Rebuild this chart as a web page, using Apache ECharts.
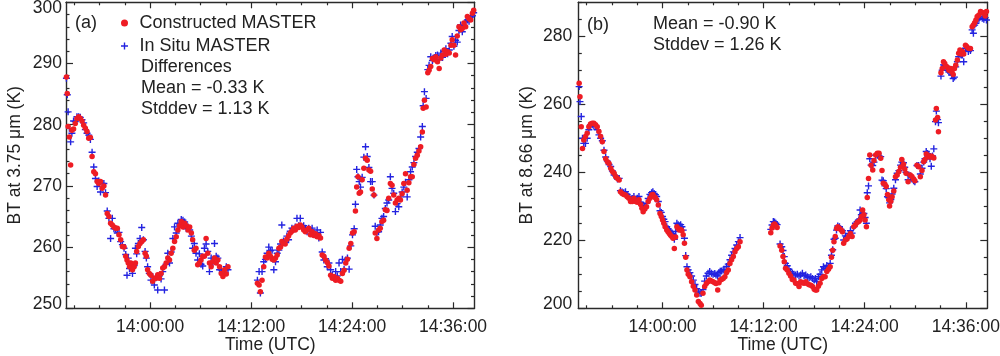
<!DOCTYPE html>
<html><head><meta charset="utf-8">
<script src="https://cdn.jsdelivr.net/npm/echarts@6/dist/echarts.min.js"></script>
<style>html,body{margin:0;padding:0;background:#fff}#c{width:1000px;height:356px}</style>
</head><body><div id="c"></div>
<script>
// ---- Panel (a): BT at 3.75 um, time in minutes after 14:00:00 UTC ----
const timesA = [
-9.95,-9.85,-9.75,-9.6,-9.45,-9.3,-9.1,-8.9,-8.7,-8.5,
-8.3,-8.1,-7.9,-7.7,-7.5,-7.3,-7.1,-6.9,-6.7,-6.5,
-6.3,-6.1,-5.9,-5.7,-5.5,-5.3,-5.1,-4.9,-4.7,-4.5,
-4.3,-4.1,-3.9,-3.7,-3.5,-3.3,-3.1,-2.9,-2.75,-2.6,
-2.45,-2.3,-2.1,-1.9,-1.75,-1.6,-1.4,-1.2,-1.0,-0.8,
-0.6,-0.45,-0.3,-0.1,0.1,0.3,0.5,0.7,0.9,1.1,
1.3,1.5,1.7,1.9,2.1,2.3,2.5,2.7,2.9,3.1,
3.3,3.5,3.7,3.9,4.1,4.3,4.5,4.7,4.9,5.05,
5.25,5.45,5.65,5.85,6.05,6.25,6.45,6.65,6.85,7.05,
7.25,7.45,7.65,7.85,8.05,8.25,8.45,8.65,8.85,9.05,
9.25,
12.75,12.95,13.1,13.3,13.5,13.7,13.9,14.1,14.3,14.5,
14.7,14.9,15.1,15.3,15.5,15.65,15.85,16.05,16.25,16.45,
16.65,16.85,17.05,17.25,17.45,17.65,17.85,18.05,18.25,18.45,
18.65,18.85,19.05,19.25,19.45,19.65,19.85,20.05,20.25,20.45,
20.65,20.85,21.05,21.25,21.45,21.65,21.85,22.05,22.25,22.45,
22.65,22.85,23.05,23.25,23.45,23.65,23.85,24.05,24.25,24.4,
24.55,24.7,24.85,25.0,25.2,25.4,25.6,25.8,26.0,26.2,
26.4,26.6,26.75,26.95,27.15,27.35,27.55,27.75,27.95,28.15,
28.35,28.55,28.75,28.95,29.15,29.35,29.55,29.75,29.95,30.15,
30.35,30.55,30.75,30.95,31.15,31.35,31.55,31.75,31.95,32.15,
32.35,32.45,32.6,32.8,33.0,33.15,33.35,33.55,33.75,33.95,
34.15,34.35,34.55,34.75,34.95,35.15,35.35,35.55,35.75,35.9,
36.1,36.3,36.5,36.7,36.9,37.1,37.3,37.5,37.7,37.9,
38.1,38.3,38.45];
const constructedA = [
287.8,285.1,279.7,278.0,273.4,279.1,279.3,280.2,281.0,281.3,
281.0,280.6,279.9,279.4,278.9,277.8,277.9,274.8,272.3,272.0,
270.7,270.4,270.7,269.6,270.0,268.5,265.5,265.0,263.9,263.6,
263.3,263.1,263.1,262.0,261.2,260.1,260.0,258.5,257.9,257.4,
256.8,257.4,256.3,256.8,257.4,259.3,260.1,260.6,260.9,261.2,
259.0,258.5,256.3,255.7,255.4,254.4,254.9,254.9,255.5,254.9,
255.7,256.6,256.8,257.4,258.2,257.9,259.0,259.8,260.9,261.7,
262.8,263.5,264.2,263.3,263.9,263.5,262.8,263.3,262.3,261.2,
259.5,259.8,257.1,257.4,257.9,258.5,258.5,261.4,259.0,257.4,
256.8,257.6,258.2,257.4,257.9,256.8,255.7,255.2,256.3,255.6,
256.8,
254.1,253.8,252.7,254.6,256.8,258.4,258.2,259.0,258.5,258.0,
257.9,258.2,258.7,259.8,260.0,260.9,260.6,260.5,261.3,261.8,
262.3,262.6,263.1,262.8,263.4,263.2,263.6,263.3,262.8,262.5,
262.8,263.1,262.0,262.5,261.9,262.2,261.7,261.9,261.5,258.7,
258.5,257.9,257.5,256.9,255.4,254.9,255.2,254.6,254.9,254.6,
254.4,255.7,256.2,257.4,258.0,259.8,260.6,262.3,262.5,265.9,
269.8,271.5,268.8,269.0,271.0,272.9,274.5,274.2,272.6,272.4,
269.5,268.5,262.3,261.4,262.8,263.1,264.2,264.4,266.1,266.0,
268.0,270.4,270.1,268.5,267.2,267.7,268.0,267.7,268.7,270.4,
272.0,269.3,270.5,271.5,271.5,273.5,274.5,275.0,275.7,276.4,
278.8,282.7,284.0,282.9,288.5,288.9,289.5,290.8,290.6,291.1,
290.3,289.2,290.9,291.4,292.2,291.5,291.9,291.7,293.0,293.9,
293.0,291.4,294.5,296.0,295.5,295.7,296.6,296.0,297.7,297.3,
297.1,298.2,298.7];
const inSituA = [
287.6,284.9,282.1,279.4,277.2,278.6,280.6,280.5,281.3,281.3,
281.2,280.8,280.3,279.2,278.6,278.3,277.6,275.5,273.1,271.2,
269.9,270.8,269.0,270.4,270.4,268.9,265.9,264.7,261.4,264.7,
263.0,263.0,262.3,262.4,260.9,260.4,259.8,258.8,255.4,258.2,
256.5,257.2,255.7,257.0,259.8,258.9,260.6,261.4,263.2,261.2,
259.3,258.2,256.8,255.7,254.6,255.2,253.8,255.0,253.0,255.3,
254.8,256.0,253.0,257.2,259.0,257.4,259.2,261.4,263.3,262.3,
263.9,263.6,264.5,264.4,264.1,263.0,263.3,262.8,261.8,259.8,
260.6,259.0,257.9,258.9,257.2,256.9,259.8,260.5,259.3,256.0,
258.2,257.4,260.6,258.5,258.2,256.3,256.3,255.7,256.3,256.8,
256.3,
254.6,256.0,252.5,256.0,257.6,258.0,259.0,260.0,259.4,259.5,
256.3,257.6,259.0,259.5,260.5,263.6,261.0,260.8,261.8,261.2,
262.6,263.1,262.9,263.3,264.7,263.5,264.7,263.2,263.5,263.1,
262.5,263.1,262.8,263.1,262.3,262.0,262.8,261.5,262.4,259.2,
257.9,258.1,256.8,257.4,256.3,255.4,255.0,256.0,255.3,257.4,
256.0,258.0,256.4,257.9,258.2,256.4,260.2,262.0,263.0,267.0,
272.7,271.5,270.7,269.8,271.4,274.7,276.4,274.8,273.0,270.7,
270.7,268.5,263.4,262.4,262.5,263.6,264.7,265.0,266.3,267.2,
267.7,271.5,269.6,268.8,265.8,267.1,266.6,268.2,269.0,269.8,
270.6,268.2,271.0,272.3,273.1,273.8,274.8,275.5,276.1,278.0,
279.7,283.1,285.4,284.3,289.0,289.7,291.1,290.5,290.9,291.3,
291.4,290.6,291.7,291.0,292.0,292.4,291.6,292.2,293.3,294.4,
292.8,293.8,293.5,295.4,296.3,295.2,296.2,296.8,297.1,296.9,
297.6,297.8,298.3];

// ---- Panel (b): BT at 8.66 um ----
const timesB = [
-9.9,-9.8,-9.65,-9.5,-9.35,-9.15,-8.95,-8.75,-8.55,-8.35,
-8.15,-7.95,-7.75,-7.55,-7.35,-7.15,-6.95,-6.75,-6.55,-6.35,
-6.15,-5.95,-5.75,-5.55,-5.35,-5.15,-5.0,-4.8,-4.6,-4.4,
-4.2,-4.0,-3.8,-3.6,-3.4,-3.2,-3.0,-2.8,-2.6,-2.45,
-2.3,-2.1,-1.9,-1.7,-1.5,-1.3,-1.15,-1.0,-0.85,-0.7,
-0.5,-0.3,-0.15,0.0,0.15,0.3,0.5,0.65,0.8,0.95,
1.1,1.25,1.4,1.55,1.7,1.85,2.0,2.15,2.3,2.45,
2.6,2.75,2.9,3.05,3.25,3.45,3.65,3.85,4.05,4.25,
4.45,4.6,4.8,5.0,5.2,5.4,5.6,5.8,6.0,6.2,
6.35,6.55,6.7,6.85,7.0,7.2,7.4,7.6,7.8,8.0,
8.2,8.4,8.6,8.8,9.0,9.2,
12.85,13.0,13.15,13.3,13.45,13.6,13.95,14.15,14.3,14.45,
14.6,14.8,15.0,15.2,15.4,15.6,15.8,16.0,16.2,16.4,
16.6,16.8,17.0,17.2,17.4,17.6,17.8,18.0,18.15,18.3,
18.5,18.7,18.9,19.1,19.3,19.5,19.7,19.9,20.05,20.2,
20.35,20.5,20.65,20.8,21.0,21.2,21.35,21.5,21.7,21.9,
22.1,22.3,22.5,22.7,22.9,23.1,23.3,23.45,23.6,23.75,
23.9,24.05,24.2,24.3,24.45,24.6,24.75,24.95,25.1,25.3,
25.5,25.7,25.9,26.05,26.2,26.4,26.55,26.7,26.85,26.95,
27.1,27.25,27.45,27.65,27.85,28.05,28.25,28.4,28.6,28.75,
28.9,29.15,29.4,29.6,29.8,29.95,30.2,30.4,30.6,30.8,
31.0,31.15,31.3,31.45,31.6,31.75,31.9,32.05,32.2,32.4,
32.5,32.65,32.75,33.05,33.2,33.35,33.5,33.7,33.85,34.0,
34.2,34.35,34.5,34.65,34.8,35.0,35.15,35.3,35.45,35.6,
35.75,35.96,36.1,36.3,36.55,36.75,36.9,37.05,37.2,37.35,
37.55,37.75,37.95,38.14,38.3,38.45];
const constructedB = [
266.2,262.2,253.4,247.0,249.5,250.5,251.5,253.4,254.2,254.4,
254.4,254.0,253.4,252.0,250.5,249.0,246.1,244.0,243.1,242.6,
241.2,240.2,239.7,238.7,238.2,237.7,234.3,233.8,233.5,233.3,
232.8,232.4,231.4,231.4,232.4,231.4,231.2,231.9,230.5,229.4,
228.4,229.2,229.9,231.4,232.4,233.3,233.5,232.8,232.5,231.9,
230.4,227.9,227.0,226.0,225.0,224.0,223.0,222.5,222.0,221.5,
221.1,220.6,217.6,221.0,224.0,223.5,223.0,223.2,222.8,221.6,
219.1,215.0,211.3,210.0,209.3,207.8,206.5,205.4,203.9,202.0,
201.4,200.9,204.4,206.4,207.3,207.8,208.3,208.0,207.8,207.5,
207.3,205.4,207.5,208.3,208.5,208.8,209.3,210.5,211.3,213.2,
214.3,215.2,216.6,217.6,218.1,219.6,
222.2,223.6,224.5,224.8,224.3,223.8,218.3,217.1,215.2,213.7,
211.8,211.3,210.3,209.5,208.5,208.3,207.4,207.2,206.4,207.8,
207.5,207.4,207.8,207.2,206.9,206.8,206.4,205.6,205.4,205.4,
206.5,207.4,208.8,209.3,209.3,210.8,211.5,212.2,215.0,217.1,
219.6,221.1,223.5,224.0,223.5,223.0,222.5,219.1,220.1,220.4,
221.1,222.0,221.1,224.0,224.5,225.2,225.5,226.0,227.0,228.9,
227.5,226.0,224.0,232.6,238.2,245.1,242.1,240.7,243.5,245.1,
245.6,245.6,244.1,240.5,236.8,236.5,235.8,233.5,231.9,230.1,
231.5,232.8,234.5,238.7,239.2,240.2,241.5,243.8,242.4,241.0,
239.7,237.2,239.2,238.8,238.0,237.5,242.1,241.6,238.7,240.5,
243.1,243.8,245.4,245.0,244.6,244.5,244.8,244.5,244.2,255.4,
258.8,256.1,251.9,269.3,270.5,272.5,272.0,271.1,270.8,270.0,
270.5,269.5,268.8,270.5,271.5,273.0,275.0,276.0,274.8,275.5,
274.8,277.4,277.0,276.5,276.4,282.8,283.3,284.0,284.8,285.8,
286.3,287.3,287.0,286.8,286.0,287.3];
const inSituB = [
265.2,260.8,256.4,250.0,248.5,248.5,250.0,252.5,253.9,254.0,
253.6,253.5,252.5,251.0,250.0,249.3,246.5,244.5,243.3,242.3,
241.7,240.4,239.2,238.9,238.0,238.2,234.6,234.2,234.0,234.3,
233.5,232.9,232.1,232.3,232.9,232.0,232.4,232.9,231.2,230.4,
229.4,230.0,230.9,232.3,233.5,234.0,234.3,233.8,233.4,232.9,
231.4,228.7,228.2,227.0,226.2,225.5,224.0,223.4,223.0,222.5,
222.0,221.8,220.3,222.6,225.0,224.6,224.2,224.6,224.0,223.0,
220.6,215.5,212.2,211.3,210.5,209.5,208.3,207.0,205.8,204.8,
204.4,204.4,205.5,208.0,209.5,210.3,210.8,210.3,210.0,210.2,
209.8,209.5,210.5,210.9,211.0,211.3,211.3,212.3,213.0,214.3,
215.6,216.6,217.6,218.6,219.6,220.8,
223.2,224.5,225.5,225.4,225.0,224.6,218.9,218.1,217.0,215.2,
213.2,212.5,211.5,210.8,210.3,210.0,209.8,210.0,209.5,209.8,
210.3,209.6,209.8,209.3,209.0,209.3,208.8,208.3,208.8,207.8,
209.3,210.0,211.3,212.2,211.8,212.6,212.2,213.2,215.6,217.2,
220.3,220.6,223.0,224.2,224.0,223.2,222.8,220.1,221.3,221.1,
222.0,222.8,222.1,224.0,225.0,225.5,226.0,228.9,227.5,227.9,
227.9,226.7,225.0,234.0,236.0,244.0,242.1,242.0,243.0,245.0,
245.0,244.8,244.6,237.7,237.5,236.0,235.2,232.8,232.5,231.0,
232.0,233.6,235.3,237.8,239.7,240.5,242.1,243.0,242.8,241.5,
240.0,237.8,239.0,238.5,237.5,237.2,242.0,242.0,239.5,241.2,
243.0,244.0,246.1,245.5,245.2,244.0,241.8,244.8,246.9,254.9,
258.0,255.5,254.6,268.3,270.0,271.6,271.5,270.5,270.0,269.5,
269.5,268.6,267.6,268.0,271.0,272.5,274.0,275.0,274.5,274.5,
272.5,276.5,276.4,275.5,275.8,281.9,280.9,283.3,283.8,284.8,
285.0,285.8,285.3,285.0,285.5,284.8];

// ---- Axis ticks / labels ----
const xMajorTicks = [0, 12, 24, 36];
const xMinorTicks = [-9, -6, -3, 3, 6, 9, 15, 18, 21, 27, 30, 33];
const yMajorA = [250, 260, 270, 280, 290, 300];
const yMinorA = [252,254,256,258,262,264,266,268,272,274,276,278,282,284,286,288,292,294,296,298];
const yMajorB = [200, 220, 240, 260, 280];
const yMinorB = [205,210,215,225,230,235,245,250,255,265,270,275,285,290];

const seriesNames = ['Constructed MASTER', 'In Situ MASTER'];
const statsA = ['Differences', 'Mean = -0.33 K', 'Stddev = 1.13 K'];
const statsB = ['Mean = -0.90 K', 'Stddev = 1.26 K'];

const FONT = '"Liberation Sans", Arial, Helvetica, sans-serif';
const AX = '#2a2a2a';
const TXT = '#222';
const RED = '#ee1c24';
const BLUE = '#2323e0';
const PLUS = 'path://M0,4H10V6H0Z M4,0H6V10H4Z';
const FS = 17.5;      // axis text
const FS_IN = 18;     // in-plot text
const X_MIN = -10, X_MAX = 38.55;

const chart = echarts.init(document.getElementById('c'), null, {renderer: 'canvas'});

function pad(n) { return (n < 10 ? '0' : '') + n; }
function zip(t, v) { return t.map((x, i) => [x, v[i]]); }

function xAxes(gi) {
  const base = {gridIndex: gi, type: 'value', min: X_MIN, max: X_MAX, splitLine: {show: false}};
  const line = {show: true, onZero: false, lineStyle: {color: AX, width: 1.4}};
  const noLine = {show: false, onZero: false};
  const tickStyle = {color: AX, width: 1.2};
  return [
    Object.assign({}, base, {position: 'bottom', axisLine: line,
      axisTick: {show: true, inside: true, length: 6, customValues: xMajorTicks, lineStyle: tickStyle},
      axisLabel: {show: true, customValues: xMajorTicks, formatter: v => '14:' + pad(v) + ':00',
        color: TXT, fontSize: FS, fontFamily: FONT, margin: 10},
      name: 'Time (UTC)', nameLocation: 'middle', nameGap: 28, nameMoveOverlap: false,
      nameTextStyle: {color: TXT, fontSize: FS, fontFamily: FONT}}),
    Object.assign({}, base, {position: 'bottom', axisLine: noLine,
      axisTick: {show: true, inside: true, length: 3, customValues: xMinorTicks, lineStyle: tickStyle},
      axisLabel: {show: false}}),
    Object.assign({}, base, {position: 'top', axisLine: line,
      axisTick: {show: true, inside: true, length: 6, customValues: xMajorTicks, lineStyle: tickStyle},
      axisLabel: {show: false}}),
    Object.assign({}, base, {position: 'top', axisLine: noLine,
      axisTick: {show: true, inside: true, length: 3, customValues: xMinorTicks, lineStyle: tickStyle},
      axisLabel: {show: false}})
  ];
}

function yAxes(gi, min, max, major, minor, name, margin) {
  const base = {gridIndex: gi, type: 'value', min: min, max: max, splitLine: {show: false}};
  const line = {show: true, onZero: false, lineStyle: {color: AX, width: 1.4}};
  const noLine = {show: false, onZero: false};
  const tickStyle = {color: AX, width: 1.2};
  return [
    Object.assign({}, base, {position: 'left', axisLine: line,
      axisTick: {show: true, inside: true, length: 7, customValues: major, lineStyle: tickStyle},
      axisLabel: {show: true, customValues: major, color: TXT, fontSize: FS, fontFamily: FONT, margin: margin,
        formatter: v => v === min ? '{lo|' + v + '}' : (v === max ? '{hi|' + v + '}' : String(v)),
        rich: {lo: {padding: [0, 0, 9, 0], fontSize: FS, fontFamily: FONT, color: TXT},
               hi: {padding: [11, 0, 0, 0], fontSize: FS, fontFamily: FONT, color: TXT}}},
      name: name, nameLocation: 'middle', nameGap: 42, nameRotate: 90, nameMoveOverlap: false,
      nameTextStyle: {color: TXT, fontSize: FS, fontFamily: FONT}}),
    Object.assign({}, base, {position: 'left', axisLine: noLine,
      axisTick: {show: true, inside: true, length: 3.5, customValues: minor, lineStyle: tickStyle},
      axisLabel: {show: false}}),
    Object.assign({}, base, {position: 'right', axisLine: line,
      axisTick: {show: true, inside: true, length: 7, customValues: major, lineStyle: tickStyle},
      axisLabel: {show: false}}),
    Object.assign({}, base, {position: 'right', axisLine: noLine,
      axisTick: {show: true, inside: true, length: 3.5, customValues: minor, lineStyle: tickStyle},
      axisLabel: {show: false}})
  ];
}

function scatter(name, axisIdx, data, isRed) {
  return {
    type: 'scatter', name: name, xAxisIndex: axisIdx, yAxisIndex: axisIdx,
    data: data, symbol: isRed ? 'circle' : PLUS, symbolSize: isRed ? 5.5 : 7,
    itemStyle: {color: isRed ? RED : BLUE, opacity: 1}, z: isRed ? 3 : 2,
    silent: true, animation: false, emphasis: {disabled: true}
  };
}

function txt(x, y, s) {
  return {type: 'text', x: x, y: y, silent: true,
    style: {text: s, fill: TXT, font: FS_IN + 'px ' + FONT, verticalAlign: 'middle', align: 'left'}};
}

const option = {
  backgroundColor: '#fff',
  animation: false,
  grid: [
    {left: 66, top: 2.3, width: 408.5, height: 306, containLabel: false, outerBoundsMode: 'none'},
    {left: 578.3, top: 2.3, width: 409, height: 306, containLabel: false, outerBoundsMode: 'none'}
  ],
  xAxis: xAxes(0).concat(xAxes(1)),
  yAxis: yAxes(0, 250, 300, yMajorA, yMinorA, 'BT at 3.75 μm (K)', 4)
    .concat(yAxes(1, 200, 290, yMajorB, yMinorB, 'BT at 8.66 μm (K)', 6)),
  legend: {
    left: 121, top: 14, orient: 'vertical', padding: 0,
    itemWidth: 20, itemHeight: 7, itemGap: 5, selectedMode: false,
    textStyle: {color: TXT, fontSize: FS_IN, fontFamily: FONT, lineHeight: 18},
    data: [{name: seriesNames[0], icon: 'circle'}, {name: seriesNames[1], icon: PLUS}]
  },
  graphic: [
    txt(75, 23, '(a)'),
    txt(141, 67, statsA[0]),
    txt(141, 88.5, statsA[1]),
    txt(141, 109, statsA[2]),
    txt(587, 25, '(b)'),
    txt(653, 24.5, statsB[0]),
    txt(653, 45, statsB[1])
  ],
  series: [
    scatter(seriesNames[1], 0, zip(timesA, inSituA), false),
    scatter(seriesNames[0], 0, zip(timesA, constructedA), true),
    scatter(seriesNames[1], 4, zip(timesB, inSituB), false),
    scatter(seriesNames[0], 4, zip(timesB, constructedB), true)
  ]
};
chart.setOption(option);
</script>
</body></html>
